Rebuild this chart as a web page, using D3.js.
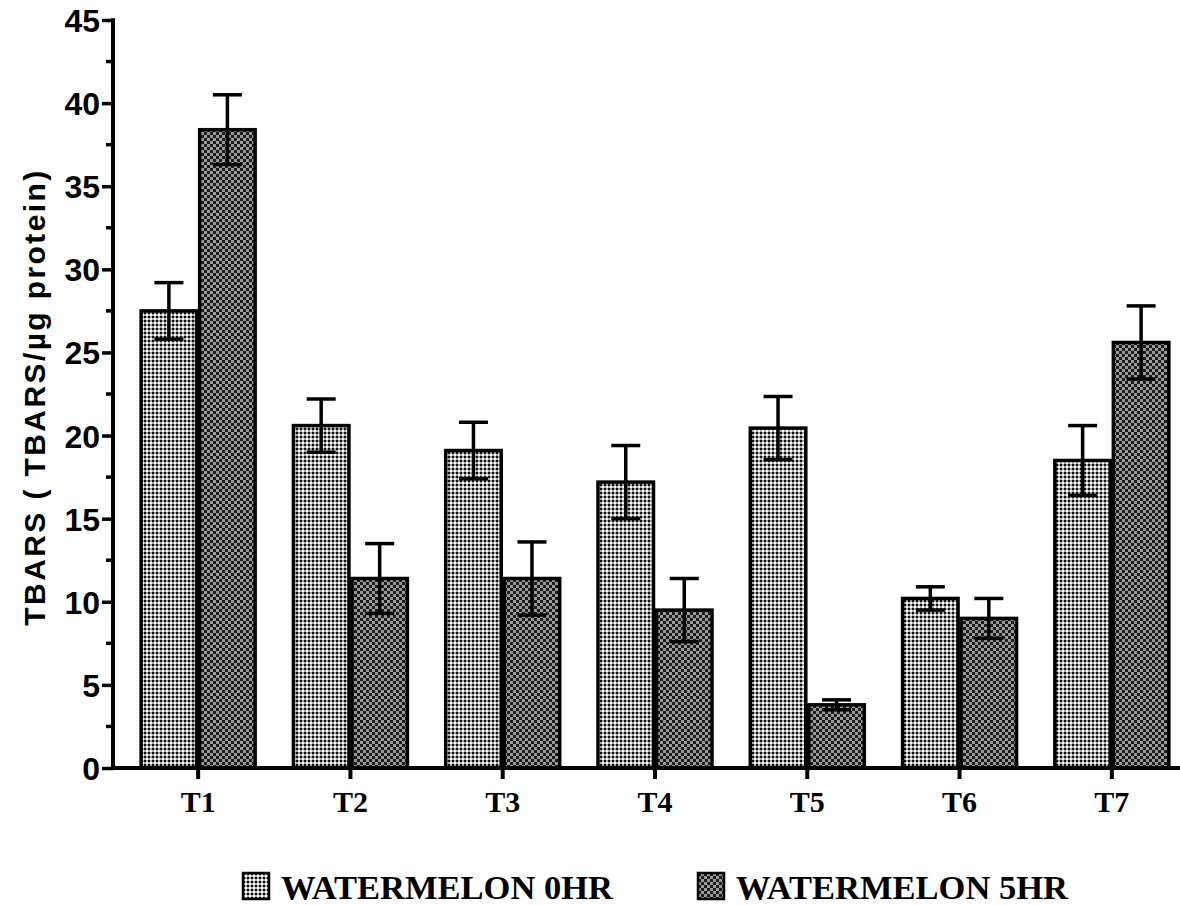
<!DOCTYPE html>
<html>
<head>
<meta charset="utf-8">
<script src="https://cdn.jsdelivr.net/npm/d3@7"></script>
<style>
	body { margin: 0; background: #fff; }
</style>
</head>
<body>
<div class="chart"></div>
<script>
const categories = ["T1", "T2", "T3", "T4", "T5", "T6", "T7"];
const seriesNames = ["WATERMELON 0HR", "WATERMELON 5HR"];
const values0hr = [27.5, 20.6, 19.1, 17.2, 20.45, 10.2, 18.5];
const errors0hr = [1.7, 1.6, 1.7, 2.2, 1.9, 0.7, 2.1];
const values5hr = [38.4, 11.4, 11.4, 9.5, 3.8, 9.0, 25.6];
const errors5hr = [2.1, 2.1, 2.2, 1.9, 0.3, 1.2, 2.2];
const yTicks = [0, 5, 10, 15, 20, 25, 30, 35, 40, 45];

(function () {

	const width = 1180,
		height = 906;

	const svg = d3.select(".chart").append("svg")
		.attr("width", width)
		.attr("height", height);

	// fill patterns for the two series
	const defs = svg.append("defs");
	const p0 = defs.append("pattern")
		.attr("id", "pat0")
		.attr("patternUnits", "userSpaceOnUse")
		.attr("width", 4).attr("height", 4);
	p0.append("rect").attr("width", 4).attr("height", 4).attr("fill", "#a8a8a8");
	p0.append("rect").attr("width", 2).attr("height", 2).attr("fill", "#111");
	p0.append("rect").attr("x", 2).attr("y", 2).attr("width", 2).attr("height", 2).attr("fill", "#fff");

	const p1 = defs.append("pattern")
		.attr("id", "pat1")
		.attr("patternUnits", "userSpaceOnUse")
		.attr("width", 6).attr("height", 6);
	p1.append("rect").attr("width", 6).attr("height", 6).attr("fill", "#9a9a9a");
	p1.append("rect").attr("width", 3).attr("height", 3).attr("fill", "#1c1c1c");
	p1.append("rect").attr("x", 3).attr("y", 3).attr("width", 3).attr("height", 3).attr("fill", "#1c1c1c");

	const x = d3.scaleBand()
		.domain(categories)
		.range([122, 1188])
		.padding(0);

	const y = d3.scaleLinear()
		.domain([0, 45])
		.range([768, 20]);

	const barW = 57;

	const series = [
		{name: seriesNames[0], values: values0hr, errors: errors0hr, fill: "url(#pat0)", side: -1},
		{name: seriesNames[1], values: values5hr, errors: errors5hr, fill: "url(#pat1)", side: 1}
	];

	series.forEach(function (s, si) {
		const data = categories.map(function (c, i) {
			return {cat: c, v: s.values[i], e: s.errors[i]};
		});
		const cx = function (d) {
			const c = x(d.cat) + x.bandwidth() / 2;
			return s.side < 0 ? c - barW : c + 1.5;
		};

		svg.selectAll(".bar" + si)
			.data(data)
			.enter().append("rect")
			.attr("class", "bar" + si)
			.attr("x", cx)
			.attr("y", function (d) { return y(d.v); })
			.attr("width", barW - 1.5)
			.attr("height", function (d) { return y(0) - y(d.v); })
			.attr("fill", s.fill)
			.attr("stroke", "#000")
			.attr("stroke-width", 3.5);

		const mid = function (d) { return cx(d) + (barW - 1.5) / 2; };
		const err = svg.selectAll(".err" + si)
			.data(data)
			.enter().append("g")
			.attr("class", "err" + si)
			.attr("stroke", "#000")
			.attr("stroke-width", 3.5);
		err.append("line")
			.attr("x1", mid).attr("x2", mid)
			.attr("y1", function (d) { return y(d.v + d.e); })
			.attr("y2", function (d) { return y(d.v - d.e); });
		err.append("line")
			.attr("x1", function (d) { return mid(d) - 14.5; })
			.attr("x2", function (d) { return mid(d) + 14.5; })
			.attr("y1", function (d) { return y(d.v + d.e); })
			.attr("y2", function (d) { return y(d.v + d.e); });
		err.append("line")
			.attr("x1", function (d) { return mid(d) - 14.5; })
			.attr("x2", function (d) { return mid(d) + 14.5; })
			.attr("y1", function (d) { return y(d.v - d.e); })
			.attr("y2", function (d) { return y(d.v - d.e); });
	});

	// y axis
	const yAxis = d3.axisLeft(y)
		.tickValues(yTicks)
		.tickSize(11)
		.tickPadding(2);
	const gy = svg.append("g")
		.attr("transform", "translate(113,0)")
		.call(yAxis);
	gy.select(".domain").remove();
	gy.selectAll(".tick line").attr("stroke", "#000").attr("stroke-width", 3.5);
	gy.selectAll(".tick text")
		.attr("fill", "#000")
		.attr("font-family", "Liberation Sans, Arial, sans-serif")
		.attr("font-weight", "bold")
		.attr("font-size", 32)
		.attr("dy", "0.36em");

	// minor ticks
	svg.append("g").selectAll("line")
		.data(yTicks.slice(0, -1))
		.enter().append("line")
		.attr("x1", 106).attr("x2", 113)
		.attr("y1", function (d) { return y(d + 2.5); })
		.attr("y2", function (d) { return y(d + 2.5); })
		.attr("stroke", "#000")
		.attr("stroke-width", 3.5);

	svg.append("line")
		.attr("x1", 113).attr("x2", 113)
		.attr("y1", y(45) - 1.75).attr("y2", y(0) + 2)
		.attr("stroke", "#000").attr("stroke-width", 4);

	// x axis
	const xAxis = d3.axisBottom(x).tickSize(11).tickPadding(12);
	const gx = svg.append("g")
		.attr("transform", "translate(0," + y(0) + ")")
		.call(xAxis);
	gx.select(".domain").remove();
	gx.selectAll(".tick line").attr("stroke", "#000").attr("stroke-width", 4);
	gx.selectAll(".tick text")
		.attr("fill", "#000")
		.attr("font-family", "Liberation Serif, Times New Roman, serif")
		.attr("font-weight", "bold")
		.attr("font-size", 30);

	svg.append("line")
		.attr("x1", 111).attr("x2", 1180)
		.attr("y1", y(0)).attr("y2", y(0))
		.attr("stroke", "#000").attr("stroke-width", 4);

	// y title
	svg.append("text")
		.attr("transform", "translate(45,397) rotate(-90)")
		.attr("text-anchor", "middle")
		.attr("font-family", "Liberation Sans, Arial, sans-serif")
		.attr("font-weight", "bold")
		.attr("font-size", 30)
		.attr("letter-spacing", 2.4)
		.text("TBARS ( TBARS/µg protein)");

	// legend
	const legendX = [243, 698];
	const legend = svg.selectAll(".legend")
		.data(series)
		.enter().append("g")
		.attr("class", "legend")
		.attr("transform", function (d, i) { return "translate(" + legendX[i] + ",873)"; });
	legend.append("rect")
		.attr("width", 26).attr("height", 26)
		.attr("fill", function (d) { return d.fill; })
		.attr("stroke", "#000").attr("stroke-width", 2.5);
	legend.append("text")
		.attr("x", 38)
		.attr("y", 26)
		.attr("font-family", "Liberation Serif, Times New Roman, serif")
		.attr("font-weight", "bold")
		.attr("font-size", 34.5)
		.text(function (d) { return d.name; });

}());
</script>
</body>
</html>
